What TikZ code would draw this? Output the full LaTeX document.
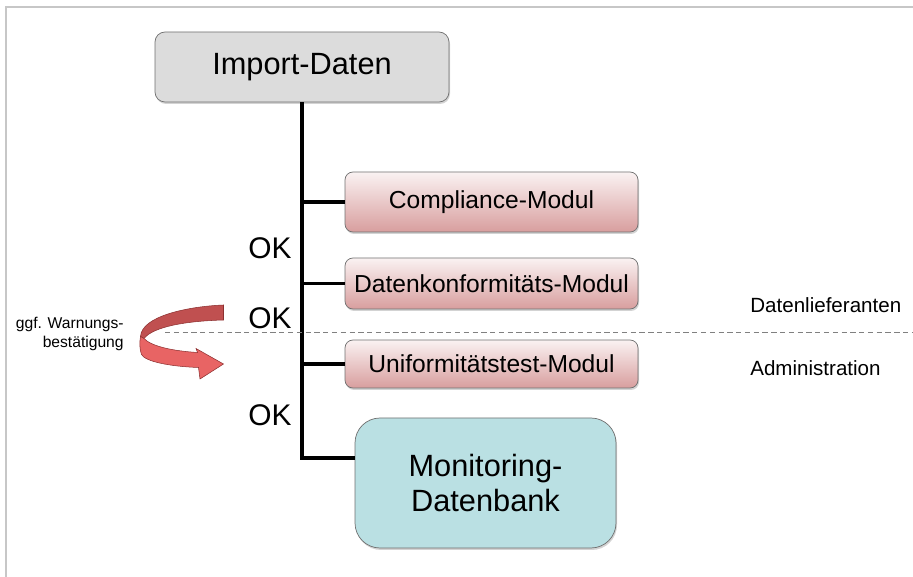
\documentclass[tikz,border=0pt]{standalone}
\usepackage{fontspec}
\setmainfont{Liberation Sans}
\usetikzlibrary{shadows}

\definecolor{importgrau}{RGB}{220,220,220}
\definecolor{randgrau}{RGB}{112,112,112}
\definecolor{modoben}{RGB}{250,242,242}
\definecolor{modunten}{RGB}{216,158,158}
\definecolor{dbblau}{RGB}{186,224,227}
\definecolor{banddunkel}{RGB}{192,80,80}
\definecolor{bandhell}{RGB}{232,100,100}
\definecolor{bandrand}{RGB}{140,48,48}

\begin{document}
\begin{tikzpicture}[line join=miter]
    \tikzstyle{importbox}=[rounded corners=0.2cm,draw=randgrau,fill=importgrau,minimum width=5.88cm,minimum height=1.4cm,font=\fontsize{17.5}{20}\selectfont,drop shadow={shadow xshift=0.02cm,shadow yshift=-0.04cm,opacity=0.35}]
    \tikzstyle{modul}=[rounded corners=0.16cm,draw=randgrau,top color=modoben,bottom color=modunten,minimum width=5.86cm,inner sep=0pt,font=\fontsize{14}{16}\selectfont,drop shadow={shadow xshift=0.02cm,shadow yshift=-0.04cm,opacity=0.35}]
    \tikzstyle{dbbox}=[rounded corners=0.5cm,draw=randgrau,fill=dbblau,minimum width=5.22cm,minimum height=2.6cm,align=center,font=\fontsize{17.5}{20}\selectfont,drop shadow={shadow xshift=0.02cm,shadow yshift=-0.04cm,opacity=0.35}]
    \tikzstyle{trunk}=[line width=2.3pt,black]
    \tikzstyle{branch}=[line width=1.8pt,black]
    \tikzstyle{oklabel}=[anchor=east,inner sep=0pt,font=\fontsize{17}{20}\selectfont]
    \tikzstyle{seite}=[anchor=west,inner sep=0pt,font=\fontsize{11.7}{14}\selectfont]
    \tikzstyle{trenn}=[gray,line width=0.5pt,dash pattern=on 3pt off 2pt]

    \useasboundingbox (0,0) rectangle (18.26,11.54);
    \draw[line width=1.1pt,black!22] (0.12,0) -- (0.12,11.4) -- (18.26,11.4);

    % Kaskade der Module
    \node[importbox] (imp) at (6.04,10.2) {Import-Daten};
    \foreach \name/\y/\h/\txt in {comp/7.5/1.2/Compliance-Modul, konf/5.87/1.02/Datenkonformitäts-Modul, unif/4.26/0.96/Uniformitätstest-Modul}
        \node[modul,minimum height=\h cm] (\name) at (9.83,\y) {\txt};
    \node[dbbox] (mon) at (9.71,1.88) {Monitoring-\\Datenbank};

    \coordinate (mon-tap) at ([yshift=0.5cm]mon.west);
    \draw[trunk] (imp.south) |- (mon-tap);
    \foreach \ziel in {comp,konf,unif}
        \draw[branch] (imp.south |- \ziel.west) -- (\ziel.west);

    \node[oklabel] (ok-1) at (5.84,6.58) {OK};
    \node[oklabel] (ok-2) at (5.84,5.18) {OK};
    \node[oklabel] (ok-3) at (5.84,3.24) {OK};

    % Trennung Datenlieferanten / Administration
    \coordinate (trenn-l) at (3.3,4.9);
    \coordinate (trenn-r) at (18.26,4.9);
    \draw[trenn] (trenn-l) -- (trenn-r);
    \node[seite] (lief) at (15.0,5.44) {Datenlieferanten};
    \node[seite] (admin) at (15.0,4.18) {Administration};

    % Rueckfrage-Pfeil
    \node[anchor=east,align=right,inner sep=0pt,font=\fontsize{8.9}{11.3}\selectfont] (warn) at (2.48,4.86) {ggf. Warnungs-\\bestätigung};
    \filldraw[fill=banddunkel,draw=bandrand,line width=0.3pt] (4.47,5.44) .. controls (3.73,5.41) and (2.83,5.21) .. (2.81,4.81) -- (2.88,4.77) .. controls (3.07,5.01) and (3.73,5.12) .. (4.47,5.14) -- cycle;
    \filldraw[fill=bandhell,draw=bandrand,line width=0.3pt] (2.88,4.77) .. controls (3.03,4.61) and (3.47,4.52) .. (3.95,4.49) -- (3.92,4.57) -- (4.47,4.26) -- (4.0,3.96) -- (3.97,4.19) .. controls (3.4,4.21) and (2.9,4.31) .. (2.83,4.45) .. controls (2.79,4.55) and (2.79,4.7) .. (2.81,4.81) -- cycle;
\end{tikzpicture}
\end{document}
